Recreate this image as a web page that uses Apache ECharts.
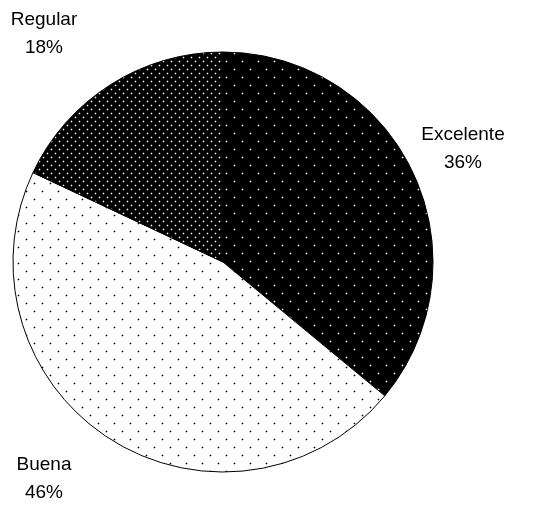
<!DOCTYPE html>
<html>
<head>
<meta charset="utf-8">
<script src="https://cdn.jsdelivr.net/npm/echarts@6/dist/echarts.min.js"></script>
<style>
  html, body { margin: 0; padding: 0; background: #fff; }
  #chart { width: 539px; height: 506px; }
</style>
</head>
<body>
<div id="chart"></div>
<script>
// Survey rating shares
const categories = ['Excelente', 'Buena', 'Regular'];
const shares = [36, 46, 18];

// Dotted fills, one per slice
function dotPattern(size, bg, fg, halo, dots) {
  const c = document.createElement('canvas');
  c.width = size; c.height = size;
  const g = c.getContext('2d');
  g.fillStyle = bg;
  g.fillRect(0, 0, size, size);
  dots.forEach(([x, y]) => {
    g.fillStyle = halo;
    g.fillRect((x - 1 + size) % size, y, 1, 1);
    g.fillRect((x + 1) % size, y, 1, 1);
    g.fillRect(x, (y - 1 + size) % size, 1, 1);
    g.fillRect(x, (y + 1) % size, 1, 1);
    g.fillStyle = fg;
    g.fillRect(x, y, 1, 1);
  });
  return { image: c, repeat: 'repeat' };
}

const fills = [
  dotPattern(16, '#000', '#fff', '#505050', [[10, 5], [2, 13]]),
  dotPattern(16, '#fff', '#000', '#b0b0b0', [[10, 15], [2, 7]]),
  dotPattern(8, '#000', '#fff', '#4a4a4a', [[7, 1], [3, 5]])
];

// Label anchor points (centre of each two-line label)
const labelAnchors = [[463, 149], [44, 479], [44, 34]];

const chart = echarts.init(document.getElementById('chart'), null, { renderer: 'canvas' });
chart.setOption({
  animation: false,
  backgroundColor: '#fff',
  series: [{
    type: 'pie',
    center: [223, 262],
    radius: 210,
    startAngle: 90,
    clockwise: true,
    data: categories.map((name, i) => ({
      name,
      value: shares[i],
      itemStyle: { color: fills[i] }
    })),
    itemStyle: { borderColor: '#000', borderWidth: 1 },
    emphasis: { disabled: true },
    label: {
      show: true,
      position: 'outside',
      overflow: 'none',
      formatter: (p) => p.name + '\n' + p.value + '%',
      fontFamily: 'Liberation Sans, Arial, sans-serif',
      fontSize: 19,
      lineHeight: 28,
      color: '#000',
      align: 'center'
    },
    labelLine: { show: false },
    labelLayout: (params) => {
      const a = labelAnchors[params.dataIndex];
      return { x: a[0], y: a[1], align: 'center', verticalAlign: 'middle' };
    }
  }]
});
</script>
</body>
</html>
